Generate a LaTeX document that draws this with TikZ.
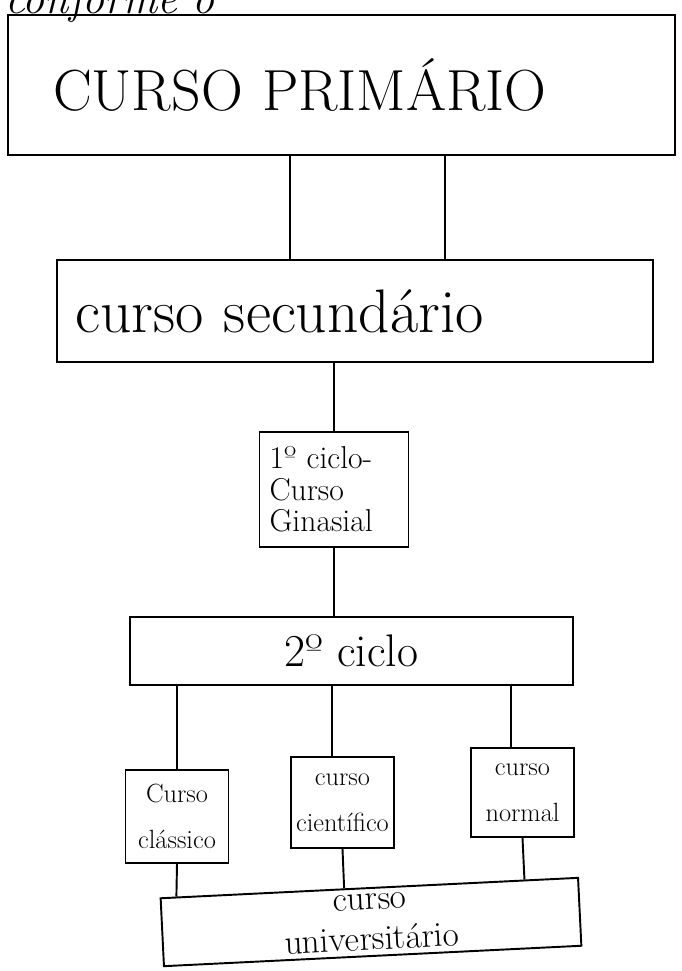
\documentclass[tikz,border=0pt]{standalone}
\usepackage{tikz}
\usetikzlibrary{positioning,calc}
\tikzset{
    caixa/.style={rectangle, draw=black, line width=1.1pt, inner sep=3pt},
    ligacao/.style={draw=black, line width=1.1pt}
}

\begin{document}
\begin{tikzpicture}[
        x=0.02cm, y=-0.02cm,
        % Caixas pequenas dos cursos
        curso/.style={
            caixa,
            align=center,
            inner xsep=1pt,
            minimum width=2.06cm,
            font=\fontsize{15}{26}\selectfont
        },
        % Caixas largas
        faixa/.style={
            caixa,
            minimum height=1.36cm
        }
    ]
        \useasboundingbox (0,0) rectangle (681,971);

        % --- TEXTO CORTADO NO TOPO ---
        \node[anchor=base west, inner sep=0pt, font=\itshape\fontsize{25}{30}\selectfont] (topo) at (5,13) {conforme o};

        % --- CURSO PRIMARIO ---
        \node[caixa, align=left, inner xsep=0.9cm, text width=11.54cm, minimum height=2.8cm,
              font=\fontsize{33}{38}\selectfont] (primario) at (341.5,85) {CURSO PRIMÁRIO};

        % --- CURSO SECUNDARIO ---
        \node[caixa, align=left, inner xsep=0.36cm, text width=11.2cm, minimum height=2.04cm,
              font=\fontsize{35}{40}\selectfont] (secundario) at (355,311) {curso secundário};

        % --- 1o CICLO ---
        \node[caixa, align=left, inner xsep=0.2cm, text width=2.58cm, minimum height=2.3cm,
              font=\fontsize{18}{18}\selectfont] (ginasial) at (334,489.5) {1º ciclo-\\ Curso\\ Ginasial};

        % --- 2o CICLO ---
        \node[faixa, minimum width=8.86cm, font=\fontsize{26}{30}\selectfont] (segundo) at (351.5,651) {2º ciclo};

        % --- OS TRES CURSOS ---
        \node[curso, minimum height=1.86cm] (classico) at (177,816.5) {Curso\\ clássico};
        \node[curso, minimum height=1.82cm] (cientifico) at (342.5,802.5) {curso\\ científico};
        \node[curso, minimum height=1.78cm] (normal) at (522.5,792.5) {curso\\ normal};

        % --- CURSO UNIVERSITARIO (um pouco torto) ---
        \node[faixa, rotate=2.8, align=center, inner ysep=1pt, minimum width=8.36cm,
              font=\fontsize{20}{23}\selectfont] (universitario) at (371,922) {curso\\ universitário};

        % --- LIGACOES ---
        \draw[ligacao] (primario.south -| 290,0) -- (secundario.north -| 290,0);
        \draw[ligacao] (primario.south -| 445,0) -- (secundario.north -| 445,0);
        \draw[ligacao] (secundario.south -| ginasial.north) -- (ginasial.north);
        \draw[ligacao] (ginasial.south) -- (ginasial.south |- segundo.north);

        \draw[ligacao] (segundo.south -| classico.north) -- (classico.north);
        \draw[ligacao] (segundo.south -| 332,0) -- (cientifico.north -| 332,0);
        \draw[ligacao] (segundo.south -| 511,0) -- (normal.north -| 511,0);

        \draw[ligacao] (classico.south) -- ($(universitario.north west)!0.04!(universitario.north east)$);
        \draw[ligacao] (cientifico.south) -- ($(universitario.north west)!0.44!(universitario.north east)$);
        \draw[ligacao] (normal.south) -- ($(universitario.north west)!0.87!(universitario.north east)$);

    \end{tikzpicture}
\end{document}
